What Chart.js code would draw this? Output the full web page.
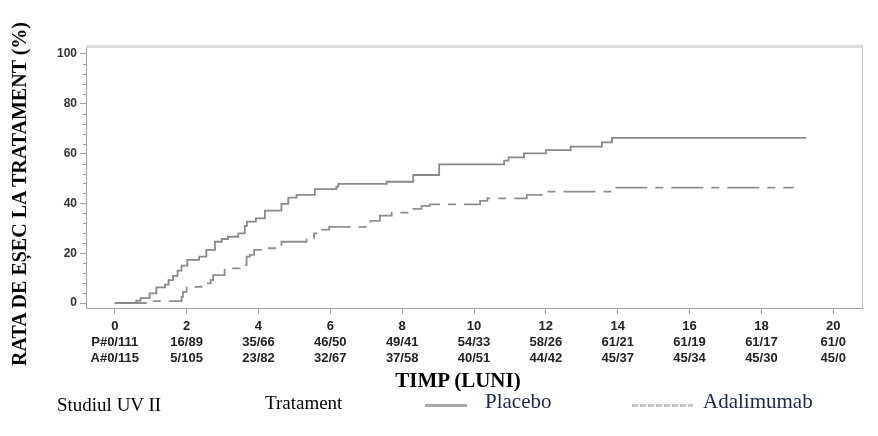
<!DOCTYPE html>
<html>
<head>
<meta charset="utf-8">
<title>Rata de esec la tratament - Studiul UV II</title>
<script src="https://cdn.jsdelivr.net/npm/chart.js@4.4.1/dist/chart.umd.min.js"></script>
<style>
    body { margin: 0; background: #fff; }
    #wrap { position: relative; width: 878px; height: 436px; overflow: hidden; }
    #chart { position: absolute; left: 0; top: 0; }
    .txt { position: absolute; white-space: nowrap; line-height: 1; font-family: "Liberation Serif", "Times New Roman", serif; color: #000; }
    #yTitle { left: 19px; top: 194px; font-size: 20px; font-weight: bold; transform: translate(-50%, -50%) rotate(-90deg); }
    #xTitle { left: 458px; top: 370px; font-size: 21px; font-weight: bold; transform: translateX(-50%); }
    #study { left: 57px; top: 395px; font-size: 19px; }
    #treat { left: 265px; top: 393px; font-size: 19px; }
    .legLabel { color: #1c2748; font-size: 21px; top: 391px; }
    #placeboLine { position: absolute; left: 425px; top: 404px; width: 42px; height: 3px; background: #a9a9a9; }
    #adaLine { position: absolute; left: 632px; top: 404px; width: 61px; height: 3px;
        background: repeating-linear-gradient(90deg, #c8c8c8 0 6px, transparent 6px 8px); }
</style>
</head>
<body>
<div id="wrap">
    <canvas id="chart" width="878" height="436"></canvas>
    <div class="txt" id="yTitle">RATA DE EȘEC LA TRATAMENT (%)</div>
    <div class="txt" id="xTitle">TIMP (LUNI)</div>
    <div class="txt" id="study">Studiul UV II</div>
    <div class="txt" id="treat">Tratament</div>
    <div id="placeboLine"></div>
    <div class="txt legLabel" style="left:485px">Placebo</div>
    <div id="adaLine"></div>
    <div class="txt legLabel" style="left:703px">Adalimumab</div>
</div>

<script>
// Kaplan-Meier style curves (months, %)
const placeboTime = [0, 0.6, 0.72, 0.97, 1.16, 1.4, 1.5, 1.62, 1.75, 1.86, 2.02, 2.35, 2.55, 2.79, 2.98, 3.15, 3.44, 3.62, 3.68, 3.93,
    4.18, 4.64, 4.83, 5.06, 5.57, 6.17, 6.22, 7.57, 8.31, 9.03, 10.84, 10.96, 11.39, 12.0, 12.69, 13.56, 13.84, 19.25];
const placeboRate = [0, 1.0, 2.0, 3.9, 6.3, 7.4, 9.2, 10.9, 13.0, 15.0, 17.3, 18.6, 21.3, 24.6, 25.7, 26.6, 28.0, 31.0, 32.7, 34.0,
    37.1, 39.8, 42.3, 43.4, 45.7, 46.7, 47.8, 48.7, 51.4, 55.7, 57.2, 58.5, 60.1, 61.4, 62.8, 64.5, 66.3, 66.3];

const adaTime = [0, 0.93, 1.86, 1.9, 2.0, 2.41, 2.67, 2.74, 3.06, 3.48, 3.67, 3.76, 3.88, 4.2, 4.64, 5.34, 5.55, 5.61, 5.97,
    7.12, 7.38, 7.71, 8.31, 8.54, 8.77, 10.17, 10.37, 11.47, 12.0, 13.88, 18.9];
const adaRate = [0, 0.8, 2.5, 4.5, 6.5, 7.9, 9.2, 11.2, 13.9, 15.2, 18.6, 19.3, 21.3, 22.0, 24.6, 26.0, 28.0, 29.5, 30.6,
    33.0, 35.1, 36.3, 37.8, 39.0, 39.6, 41.0, 42.0, 43.4, 44.7, 46.3, 46.3];

// axis ticks and the at-risk rows printed under each month
const monthTicks = [0, 2, 4, 6, 8, 10, 12, 14, 16, 18, 20];
const placeboAtRisk = ['P#0/111', '16/89', '35/66', '46/50', '49/41', '54/33', '58/26', '61/21', '61/19', '61/17', '61/0'];
const adaAtRisk = ['A#0/115', '5/105', '23/82', '32/67', '37/58', '40/51', '44/42', '45/37', '45/34', '45/30', '45/0'];
const rateTicks = [0, 20, 40, 60, 80, 100];
const rateMinorTicks = [4, 8, 12, 16, 24, 28, 32, 36, 44, 48, 52, 56, 64, 68, 72, 76, 84, 88, 92, 96];

const toPoints = (xs, ys) => xs.map((x, i) => ({ x: x, y: ys[i] }));

// top/right frame and the short minor ticks on the y axis
const framePlugin = {
    id: 'frame',
    afterDraw(chart) {
        const { ctx, chartArea: a } = chart;
        const y = chart.scales.y;
        ctx.save();
        ctx.strokeStyle = '#dcdcdc';
        ctx.lineWidth = 3;
        ctx.beginPath();
        ctx.moveTo(a.left, a.top + 0.5);
        ctx.lineTo(a.right + 1, a.top + 0.5);
        ctx.stroke();
        ctx.strokeStyle = '#c4c4c4';
        ctx.lineWidth = 1;
        ctx.beginPath();
        ctx.moveTo(a.right + 0.5, a.top);
        ctx.lineTo(a.right + 0.5, a.bottom);
        ctx.stroke();
        ctx.strokeStyle = '#a0a0a0';
        ctx.beginPath();
        rateMinorTicks.forEach(v => {
            const py = Math.round(y.getPixelForValue(v)) + 0.5;
            ctx.moveTo(a.left - 3, py);
            ctx.lineTo(a.left, py);
        });
        ctx.stroke();
        ctx.restore();
    }
};

new Chart(document.getElementById('chart'), {
    type: 'line',
    data: {
        datasets: [
            {
                label: 'Placebo',
                data: toPoints(placeboTime, placeboRate),
                borderColor: '#898989',
                borderWidth: 1.8,
                stepped: true,
                pointRadius: 0
            },
            {
                label: 'Adalimumab',
                data: toPoints(adaTime, adaRate),
                borderColor: '#8e8e8e',
                borderWidth: 1.8,
                borderDash: [32, 8, 8, 8],
                stepped: true,
                pointRadius: 0
            }
        ]
    },
    options: {
        responsive: false,
        animation: false,
        layout: { padding: { top: 46, right: 16, left: 0, bottom: 0 } },
        plugins: {
            legend: { display: false },
            tooltip: { enabled: false }
        },
        scales: {
            x: {
                type: 'linear',
                min: -0.8,
                max: 20.8,
                afterBuildTicks: scale => { scale.ticks = monthTicks.map(v => ({ value: v })); },
                afterFit: scale => { scale.height = 128; },
                border: { display: true, color: '#a0a0a0', width: 1 },
                grid: { display: true, drawOnChartArea: false, drawTicks: true, tickLength: 6, color: '#a0a0a0' },
                ticks: {
                    autoSkip: false,
                    maxRotation: 0,
                    padding: 5,
                    color: '#222',
                    font: { family: 'Liberation Sans, Arial, sans-serif', size: 13, weight: 'bold', lineHeight: 1.2 },
                    callback: (value, i) => [String(monthTicks[i]), placeboAtRisk[i], adaAtRisk[i]]
                }
            },
            y: {
                type: 'linear',
                min: -2,
                max: 103.2,
                afterBuildTicks: scale => { scale.ticks = rateTicks.map(v => ({ value: v })); },
                afterFit: scale => { scale.width = 86; },
                border: { display: true, color: '#a0a0a0', width: 1 },
                grid: { display: true, drawOnChartArea: false, drawTicks: true, tickLength: 6, color: '#a0a0a0' },
                ticks: {
                    padding: 3,
                    color: '#333',
                    font: { family: 'Liberation Sans, Arial, sans-serif', size: 12, weight: 'bold' }
                }
            }
        }
    },
    plugins: [framePlugin]
});
</script>
</body>
</html>
